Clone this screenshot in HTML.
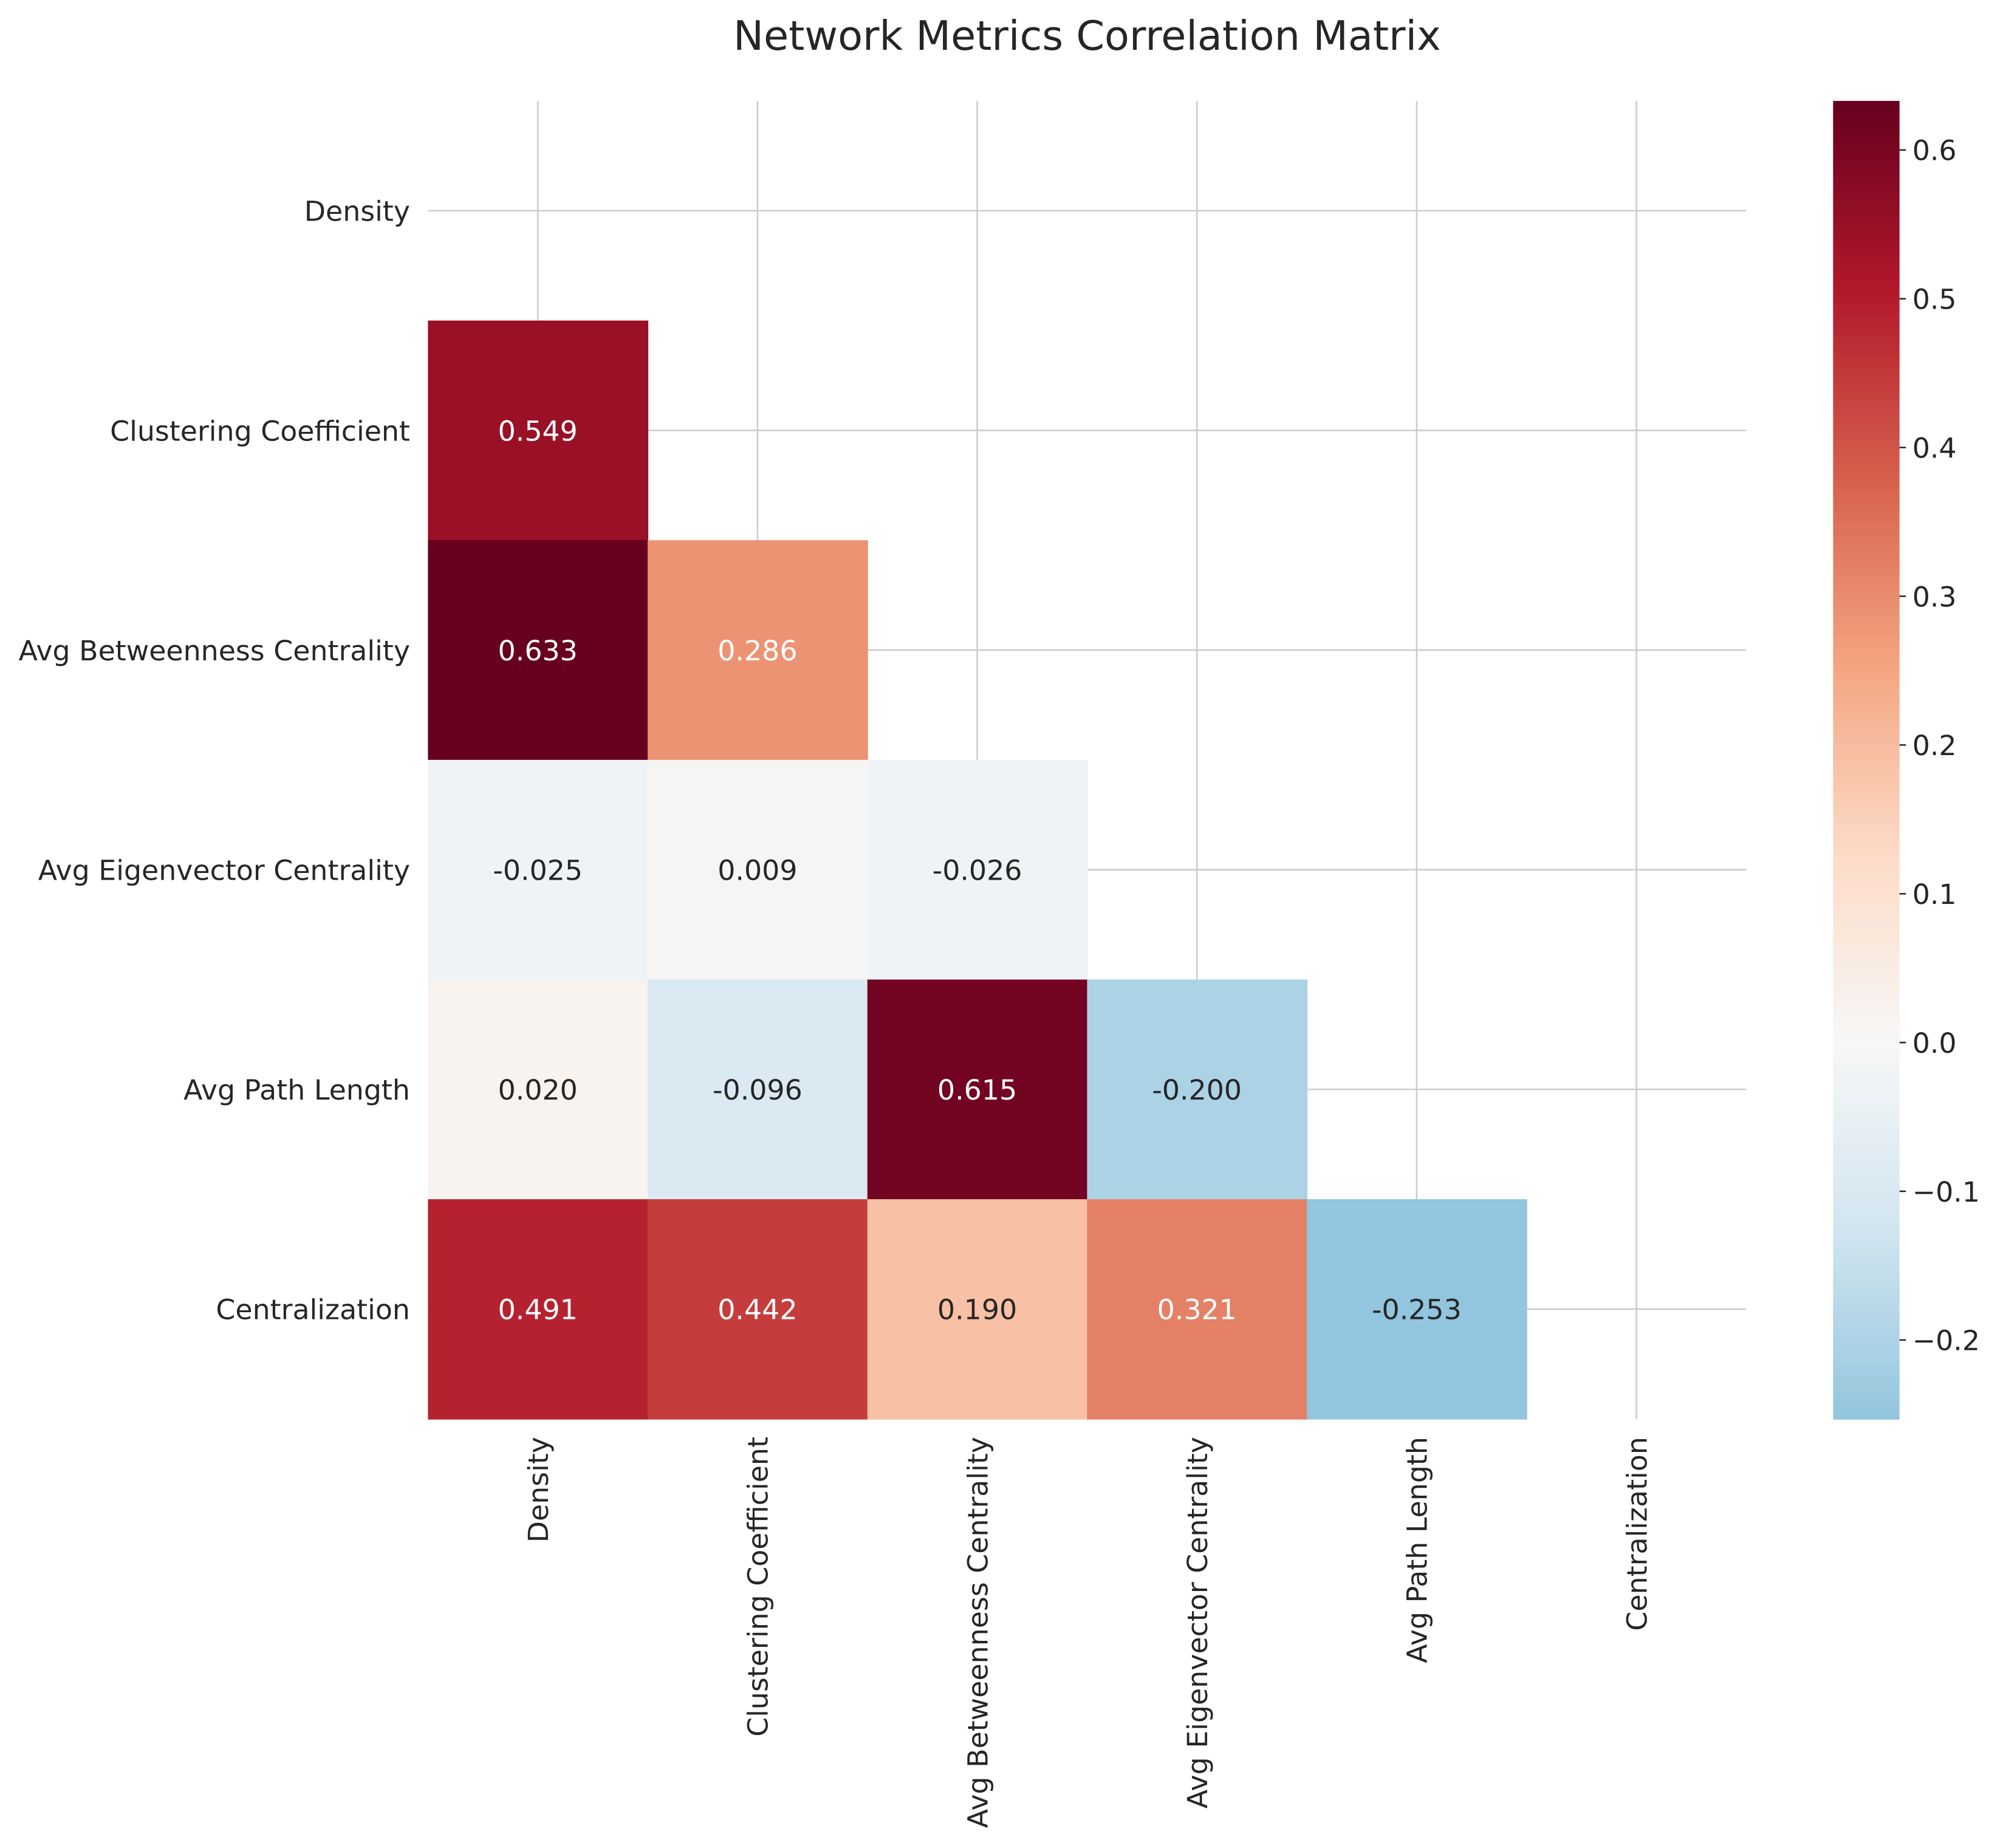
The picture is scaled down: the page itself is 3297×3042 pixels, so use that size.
<!DOCTYPE html>
<html><head><meta charset="utf-8"><style>
html,body{margin:0;padding:0;background:#fff;}
svg{display:block;font-family:"DejaVu Sans","Liberation Sans",sans-serif;}
</style></head><body>
<svg id="chart" width="3297" height="3042" viewBox="0 0 1568 1447" preserveAspectRatio="none" xmlns="http://www.w3.org/2000/svg">
<rect width="1568" height="1447" fill="#fff"/>
<text x="851" y="39" font-size="31.8" text-anchor="middle" fill="#262626">Network Metrics Correlation Matrix</text>
<g id="grid"></g><g id="cells"></g><g id="labels"></g><g id="cbar"></g>
</svg>
<script>
const labels = ["Density","Clustering Coefficient","Avg Betweenness Centrality","Avg Eigenvector Centrality","Avg Path Length","Centralization"];
const rowIdx = [1,2,2,3,3,3,4,4,4,4,5,5,5,5,5];
const colIdx = [0,0,1,0,1,2,0,1,2,3,0,1,2,3,4];
const values = [0.549,0.633,0.286,-0.025,0.009,-0.026,0.020,-0.096,0.615,-0.200,0.491,0.442,0.190,0.321,-0.253];
const cbarTicks = [0.6,0.5,0.4,0.3,0.2,0.1,0.0,-0.1,-0.2];
const cbarTickLabels = ["0.6","0.5","0.4","0.3","0.2","0.1","0.0","\u22120.1","\u22120.2"];

const NS="http://www.w3.org/2000/svg";
const L=335, T=79, C=172, n=labels.length;
const FS=21.8;
const vmin=Math.min(...values), vmax=Math.max(...values);
const vr=Math.max(vmax,-vmin);
const stops=["#053061","#2166ac","#4393c3","#92c5de","#d1e5f0","#f7f7f7","#fddbc7","#f4a582","#d6604d","#b2182b","#67001f"];
function hex(h){return [1,3,5].map(i=>parseInt(h.substr(i,2),16));}
function color(v){
  let t=(v+vr)/(2*vr); t=Math.max(0,Math.min(1,t));
  const p=t*10, i=Math.min(9,Math.floor(p)), f=p-i;
  const a=hex(stops[i]), b=hex(stops[i+1]);
  return "rgb("+a.map((x,k)=>Math.round(x+(b[k]-x)*f)).join(",")+")";
}
function mk(tag,attrs,parent){const e=document.createElementNS(NS,tag);for(const k in attrs)e.setAttribute(k,attrs[k]);parent.appendChild(e);return e;}
const xS=i=>L+i*C, yS=i=>T+i*C;
const grid=document.getElementById("grid"), cells=document.getElementById("cells"), lab=document.getElementById("labels"), cb=document.getElementById("cbar");
for(let i=0;i<n;i++){
  const gv=mk("line",{x1:xS(i)+C/2,x2:xS(i)+C/2,y1:T,y2:T+n*C,stroke:"#cccccc","stroke-width":1.2},grid);
  
  
  const gh=mk("line",{x1:L,x2:L+n*C,y1:yS(i)+C/2,y2:yS(i)+C/2,stroke:"#cccccc","stroke-width":1.2},grid);
  
  
  const yl=mk("text",{x:321,y:yS(i)+C/2+8,"font-size":FS,"text-anchor":"end",fill:"#262626"},lab);
  yl.textContent=labels[i];
  
  
  const xl=mk("text",{transform:"translate("+(xS(i)+C/2+8)+",1125) rotate(-90)","font-size":FS,"text-anchor":"end",fill:"#262626"},lab);
  xl.textContent=labels[i];
  
  
}
values.forEach((v,k)=>{
  const r=mk("rect",{x:xS(colIdx[k]),y:yS(rowIdx[k]),width:C+0.5,height:C+0.5,fill:color(v)},cells);
  
  
  const t=mk("text",{x:xS(colIdx[k])+C/2,y:yS(rowIdx[k])+C/2+8,"font-size":FS,"text-anchor":"middle",fill:(v>0.26?"#ffffff":"#262626")},cells);
  t.textContent=v.toFixed(3);
  
  
});
const cbx=1435, cbw=52, cbt=79, cbb=1111;
const cy=v=>cbb-(v-vmin)/(vmax-vmin)*(cbb-cbt);
const N=200;
for(let s=0;s<N;s++){
  const v0=vmin+(vmax-vmin)*s/N, v1=vmin+(vmax-vmin)*(s+1)/N;
  const r=mk("rect",{x:cbx,y:cy(v1),width:cbw,height:cy(v0)-cy(v1)+0.6,fill:color((v0+v1)/2)},cb);
  
  
}
cbarTicks.forEach((v,k)=>{
  const tl=mk("line",{x1:cbx+cbw,x2:cbx+cbw+5,y1:cy(v),y2:cy(v),stroke:"#262626","stroke-width":1.2},cb);
  
  
  const t=mk("text",{x:cbx+cbw+10,y:cy(v)+8,"font-size":FS,fill:"#262626"},cb);
  t.textContent=cbarTickLabels[k];
  
  
});
</script>
</body></html>
